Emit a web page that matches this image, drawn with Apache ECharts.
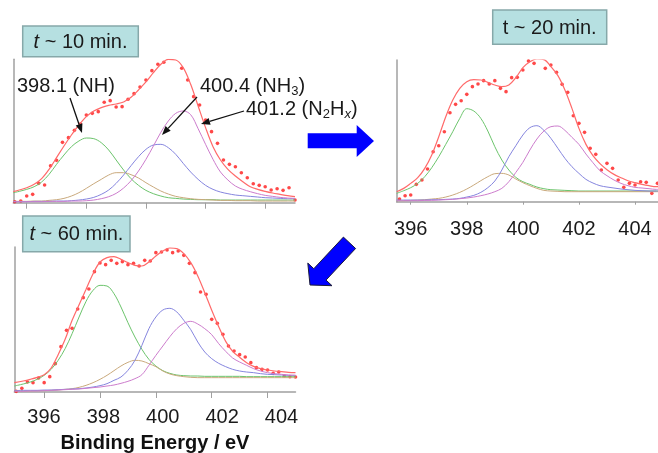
<!DOCTYPE html>
<html>
<head>
<meta charset="utf-8">
<script src="https://cdn.jsdelivr.net/npm/echarts@6/dist/echarts.min.js"></script>
<style>html,body{margin:0;padding:0;background:#fff;}#c{width:658px;height:453px;}</style>
</head>
<body>
<div id="c"></div>
<script>
// ---- tick labels ----
var tickValues = [396, 398, 400, 402, 404];

// ---- panel 1 : t ~ 10 min ----
var p1X = [395.55,395.75,396,396.25,396.5,396.75,397,397.25,397.5,397.75,398,398.25,398.5,398.75,399,399.25,399.5,399.75,400,400.25,400.5,400.75,401,401.25,401.5,401.75,402,402.25,402.5,402.75,403,403.25,403.5,403.75,404,404.25,404.5,404.75,405];
var p1NH = [30,34,40,48,62,85,115,143,168,185,194,192,180,158,128,98,72,52,37,27,20,15,13,11,10,9,9,9,8,8,8,8,8,8,8,8,8,8,8];
var p1Mid = [4,4,4,5,5,7,9,13,20,30,43,57,70,83,90,90,84,74,60,47,35,26,19,15,12,10,9,8,7,7,6,6,6,5,5,5,5,5,5];
var p1NH3 = [3,3,3,4,4,4,5,5,6,8,11,16,25,38,58,83,111,138,160,173,175,165,145,118,92,70,52,40,32,27,23,21,19,17,15,14,13,12,12];
var p1N2Hx = [3,3,3,3,3,4,4,4,5,5,6,8,12,18,28,44,66,95,130,170,211,245,268,275,264,222,175,130,92,68,50,40,33,27,22,19,16,14,13];
var p1Fit = [33,38,45,55,72,100,135,170,203,233,258,275,285,292,296,302,316,338,362,390,415,430,428,405,355,290,225,168,128,100,80,63,48,40,34,29,25,21,18];
var p1DotX = [395.6,395.8,396,396.2,396.4,396.6,396.8,397,397.2,397.4,397.6,397.8,398,398.2,398.4,398.6,398.8,399,399.2,399.4,399.6,399.8,400,400.2,400.4,400.6,400.8,401,401.2,401.4,401.6,401.8,402,402.2,402.4,402.6,402.8,403,403.2,403.4,403.6,403.8,404,404.2,404.4,404.6,404.8,405];
var p1Dot = [3,5,20,25,58,53,111,127,181,195,217,236,263,268,273,301,306,287,288,310,327,347,368,396,415,421,433,431,403,368,318,293,248,213,178,128,115,108,90,75,57,52,48,38,42,37,45,8];

// ---- panel 2 : t ~ 20 min ----
var p2X = [395.5,395.75,396,396.25,396.5,396.75,397,397.25,397.5,397.75,398,398.25,398.5,398.75,399,399.25,399.5,399.75,400,400.25,400.5,400.75,401,401.25,401.5,401.75,402,402.25,402.5,402.75,403,403.25,403.5,403.75,404,404.25,404.5,404.75,404.82];
var p2NH = [25,33,42,55,75,102,135,172,210,250,279,272,250,212,165,125,95,73,60,52,44,39,36,35,34,33,32,32,32,32,32,32,32,32,32,32,32,32,32];
var p2Mid = [3,3,4,5,6,8,10,14,20,28,38,50,63,75,84,85,80,68,57,48,40,34,32,31,30,30,30,30,30,30,30,30,30,30,30,30,30,30,30];
var p2NH3 = [5,5,5,5,5,6,6,7,8,10,14,19,28,42,62,95,135,168,200,222,228,214,190,160,130,105,85,67,56,48,44,41,38,36,34,33,32,32,32];
var p2N2Hx = [3,3,3,3,4,4,5,6,7,9,11,14,18,23,30,40,60,88,118,155,188,212,225,227,214,193,172,143,117,93,78,65,55,48,43,41,39,37,37];
var p2Fit = [30,40,55,72,100,140,195,255,305,340,360,366,365,358,350,345,350,372,402,420,428,426,405,378,335,280,220,172,138,114,96,82,72,63,57,52,48,45,45];
var p2DotX = [395.6,395.8,396,396.2,396.4,396.6,396.8,397,397.2,397.4,397.6,397.8,398,398.2,398.4,398.6,398.8,399,399.2,399.4,399.6,399.8,400,400.2,400.4,400.6,400.8,401,401.2,401.4,401.6,401.8,402,402.2,402.4,402.6,402.8,403,403.2,403.4,403.6,403.8,404,404.2,404.4,404.6,404.8];
var p2Dot = [8,18,20,52,65,98,150,168,210,267,292,303,322,345,353,363,353,363,340,330,372,373,395,422,415,428,400,410,388,352,328,258,235,208,160,142,95,115,100,65,43,55,50,60,58,25,55];

// ---- panel 3 : t ~ 60 min ----
var p3X = [394.93,395.25,395.5,395.75,396,396.25,396.5,396.75,397,397.25,397.5,397.75,398,398.25,398.5,398.75,399,399.25,399.5,399.75,400,400.25,400.5,400.75,401,401.25,401.5,401.75,402,402.25,402.5,402.75,403,403.25,403.5,403.75,404,404.25,404.5,404.75,405];
var p3NH = [18,24,30,38,50,68,95,130,175,225,272,305,320,318,295,255,208,165,128,98,78,64,56,51,49,48,48,47,47,47,47,47,47,46,46,46,46,46,46,46,46];
var p3Mid = [3,3,3,4,4,5,6,8,10,14,20,28,38,50,64,78,89,95,93,85,76,63,54,49,46,44,43,43,43,43,43,43,43,43,43,43,43,43,43,43,43];
var p3NH3 = [4,5,5,5,6,6,7,8,9,10,12,15,19,25,35,45,65,95,140,190,225,246,251,240,215,187,150,120,100,86,76,68,63,60,58,55,53,52,51,50,50];
var p3N2Hx = [2,2,3,3,4,5,6,7,8,9,11,13,15,18,21,26,32,40,52,80,110,138,166,190,206,212,204,190,172,145,122,102,90,80,70,63,58,55,53,51,50];
var p3Fit = [28,33,38,44,52,72,112,158,215,262,308,355,390,403,406,398,388,380,378,390,408,423,432,430,415,388,348,298,245,196,152,122,104,88,77,70,66,63,61,59,58];
var p3DotX = [395,395.2,395.4,395.6,395.8,396,396.2,396.4,396.6,396.8,397,397.2,397.4,397.6,397.8,398,398.2,398.4,398.6,398.8,399,399.2,399.4,399.6,399.8,400,400.2,400.4,400.6,400.8,401,401.2,401.4,401.6,401.8,402,402.2,402.4,402.6,402.8,403,403.2,403.4,403.6,403.8,404,404.2,404.4,404.6,404.8,405];
var p3Dot = [2,11,30,28,42,28,46,85,136,185,191,249,283,309,361,387,382,395,386,391,382,386,378,395,393,418,420,426,418,423,410,386,358,300,293,218,206,173,138,123,112,105,88,73,68,66,56,60,48,46,45];

var FONT = '"Liberation Sans", Arial, sans-serif';
var C = {nh:'#6cc46c', mid:'#c9a97c', nh3:'#8585de', n2hx:'#cc7ccc', fit:'#ff6a6a', dot:'#ff1a1a', axis:'#a0a0a0'};

function pairs(xs, ys){ return xs.map(function(x,i){ return [x, ys[i]]; }); }
function line(xi, xs, ys, color, w){
  return {type:'line', xAxisIndex:xi, yAxisIndex:xi>2?2:xi, data:pairs(xs,ys), smooth:0.35, symbol:'none',
          lineStyle:{color:color, width:w||1}, silent:true};
}
function dots(xi, xs, ys){
  return {type:'scatter', xAxisIndex:xi, yAxisIndex:xi, data:pairs(xs,ys), symbol:'circle', symbolSize:3.6,
          itemStyle:{color:C.dot}, silent:true};
}
function panelSeries(xi, X, nh, mid, nh3, n2hx, fit, dx, dy){
  return [line(xi,X,nh,C.nh), line(xi,X,mid,C.mid), line(xi,X,nh3,C.nh3), line(xi,X,n2hx,C.n2hx),
          line(xi,X,fit,C.fit,1.2), dots(xi,dx,dy)];
}
function xAx(grid, min, max, tickLen, showLabels, margin){
  return {type:'value', gridIndex:grid, min:min, max:max, position:'bottom',
    axisLine:{show:true, onZero:false, lineStyle:{color:C.axis, width:1.5}},
    axisTick:{show:true, inside:false, length:tickLen, customValues:tickValues, lineStyle:{color:C.axis, width:1}},
    axisLabel:{show:showLabels, customValues:tickValues, fontSize:20, fontFamily:FONT, color:'#1a1a1a', margin:margin||12},
    splitLine:{show:false}};
}
function yAx(grid, max){
  return {type:'value', gridIndex:grid, min:0, max:max,
    axisLine:{show:true, lineStyle:{color:C.axis, width:1.5}}, axisTick:{show:false}, axisLabel:{show:false}, splitLine:{show:false}};
}

var labelAxis = {type:'value', gridIndex:2, min:395, max:404.47, position:'bottom',
  axisLine:{show:false}, axisTick:{show:false}, splitLine:{show:false},
  axisLabel:{show:true, customValues:tickValues, fontSize:20, fontFamily:FONT, color:'#1a1a1a', margin:15}};

function boxText(label, italicT){
  return '{' + (italicT ? 'i' : 'n') + '|t}{n| ~ ' + label + ' min.}';
}
var boxRich = {i:{fontSize:20, fontStyle:'italic', fontFamily:FONT, fill:'#1a1a1a'}, n:{fontSize:20, fontFamily:FONT, fill:'#1a1a1a'}};
function box(x, y, w, h, label, italicT){
  return [
    {type:'rect', shape:{x:x, y:y, width:w, height:h}, style:{fill:'#b6e0e1', stroke:'#86a8a9', lineWidth:1.5}, z:100},
    {type:'text', x:x + w/2, y:y + h/2 + 1, z:101, style:{text:boxText(label, italicT), rich:boxRich, align:'center', verticalAlign:'middle'}}
  ];
}
function blackArrow(x1, y1, x2, y2){
  var dx = x2-x1, dy = y2-y1, L = Math.sqrt(dx*dx+dy*dy), ux = dx/L, uy = dy/L, hl = 9, hw = 3.5;
  var bx = x2 - ux*hl, by = y2 - uy*hl;
  return [
    {type:'line', shape:{x1:x1, y1:y1, x2:bx, y2:by}, style:{stroke:'#111', lineWidth:1.3}, z:102},
    {type:'polygon', shape:{points:[[x2,y2],[bx - uy*hw, by + ux*hw],[bx + uy*hw, by - ux*hw]]}, style:{fill:'#111'}, z:102}
  ];
}
var annRich = {a:{fontSize:20, fontFamily:FONT, fill:'#1a1a1a', lineHeight:24},
  s:{fontSize:13, fontFamily:FONT, fill:'#1a1a1a', verticalAlign:'bottom', lineHeight:14},
  si:{fontSize:13, fontFamily:FONT, fontStyle:'italic', fill:'#1a1a1a', verticalAlign:'bottom', lineHeight:14}};

var graphics = [].concat(
  box(22.7, 26, 115.6, 30.7, '10', true),
  box(492.7, 10, 114, 34.3, '20', false),
  box(22.7, 216, 107.3, 35.7, '60', true),
  [
    {type:'text', x:17, y:86, z:101, style:{text:'{a|398.1 (NH)}', rich:annRich, align:'left', verticalAlign:'middle'}},
    {type:'text', x:200, y:86, z:101, style:{text:'{a|400.4 (NH}{s|3}{a|)}', rich:annRich, align:'left', verticalAlign:'middle'}},
    {type:'text', x:246, y:109, z:101, style:{text:'{a|401.2 (N}{s|2}{a|H}{si|x}{a|)}', rich:annRich, align:'left', verticalAlign:'middle'}},
    {type:'text', x:155, y:443, z:101, style:{text:'Binding Energy / eV', font:'bold 20px ' + FONT, fill:'#111', align:'center', verticalAlign:'middle'}},
    {type:'polygon', z:103, shape:{points:[[307.7,133.3],[356.7,133.3],[356.7,125],[374,141],[356.7,157],[356.7,148.3],[307.7,148.3]]}, style:{fill:'#0000ff'}},
    {type:'polygon', z:103, shape:{points:[[343.4,237.1],[355.6,248.5],[326.0,280.1],[332.0,285.7],[310,285],[307.8,263.1],[313.8,268.7]]}, style:{fill:'#0000ff', stroke:'#1a1a3a', lineWidth:1}}
  ],
  blackArrow(70, 98, 82, 133),
  blackArrow(197, 97, 162, 135),
  blackArrow(244, 111, 201, 124)
);

var option = {
  animation:false,
  backgroundColor:'#ffffff',
  grid:[
    {left:13.3, top:59.3, width:281.7, height:143.4, containLabel:false, outerBoundsMode:'none'},
    {left:396.7, top:60, width:261.3, height:141.7, containLabel:false, outerBoundsMode:'none'},
    {left:14.3, top:247, width:281.2, height:145, containLabel:false, outerBoundsMode:'none'}
  ],
  xAxis:[
    xAx(0, 395.55, 405, 6, false),
    xAx(1, 395.5, 404.82, 3, true, 18),
    xAx(2, 394.93, 405, 6, false),
    labelAxis
  ],
  yAxis:[yAx(0, 430), yAx(1, 425), yAx(2, 435)],
  series:[].concat(
    panelSeries(0, p1X, p1NH, p1Mid, p1NH3, p1N2Hx, p1Fit, p1DotX, p1Dot),
    panelSeries(1, p2X, p2NH, p2Mid, p2NH3, p2N2Hx, p2Fit, p2DotX, p2Dot),
    panelSeries(2, p3X, p3NH, p3Mid, p3NH3, p3N2Hx, p3Fit, p3DotX, p3Dot)
  ),
  graphic:graphics
};
var chart = echarts.init(document.getElementById('c'), null, {renderer:'canvas'});
chart.setOption(option);
</script>
</body>
</html>
